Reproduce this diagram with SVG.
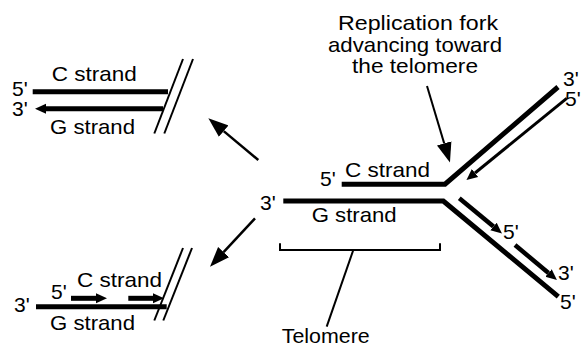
<svg xmlns="http://www.w3.org/2000/svg" width="582" height="347" viewBox="0 0 582 347">
<style>
text{font-family:"Liberation Sans",Arial,Helvetica,sans-serif;font-size:21px;fill:#000}
.dna{fill:none;stroke:#000;stroke-width:5;stroke-linejoin:miter}
.thin{fill:none;stroke:#000;stroke-width:2}
.mid{fill:none;stroke:#000;stroke-width:3}
.new{fill:none;stroke:#000;stroke-width:4.5}
</style>
<defs>
<marker id="ah" markerUnits="userSpaceOnUse" markerWidth="12" markerHeight="12" refX="0" refY="5" orient="auto" viewBox="0 0 12 10"><path d="M0,0 L11,5 L0,10 z" fill="#000"/></marker>
<marker id="ahBig" markerUnits="userSpaceOnUse" markerWidth="22" markerHeight="16" refX="0" refY="7.5" orient="auto" viewBox="0 0 22 15"><path d="M0,0 L20,7.5 L0,15 z" fill="#000"/></marker>
</defs>
<rect width="582" height="347" fill="#fff"/>

<g id="top-left">
<line class="dna" x1="32.7" y1="91.8" x2="168" y2="91.8"/>
<line class="dna" x1="163" y1="108.8" x2="46" y2="108.8" marker-end="url(#ah)"/>
<line class="thin" x1="183" y1="59" x2="154.3" y2="133.5"/>
<line class="thin" x1="193" y1="59" x2="164.3" y2="133.5"/>
<text x="12" y="96">5'</text>
<text x="12" y="115.5">3'</text>
<text x="51.7" y="81" textLength="85" lengthAdjust="spacingAndGlyphs">C strand</text>
<text x="50" y="134" textLength="85" lengthAdjust="spacingAndGlyphs">G strand</text>
</g>

<g id="bottom-left">
<line class="dna" x1="36" y1="306.7" x2="166.7" y2="306.7"/>
<line class="dna" x1="71" y1="298.3" x2="96" y2="298.3" marker-end="url(#ah)"/>
<line class="dna" x1="128.3" y1="298.3" x2="153" y2="298.3" marker-end="url(#ah)"/>
<line class="thin" x1="183" y1="248" x2="154.3" y2="320.5"/>
<line class="thin" x1="192" y1="248" x2="163.3" y2="320.5"/>
<text x="14" y="312">3'</text>
<text x="51" y="298.5">5'</text>
<text x="77" y="287" textLength="85" lengthAdjust="spacingAndGlyphs">C strand</text>
<text x="50" y="330" textLength="85" lengthAdjust="spacingAndGlyphs">G strand</text>
</g>

<g id="fork">
<polyline class="dna" points="341.7,184.2 445,184.2 558,87"/>
<polyline class="dna" points="283.3,201 443.3,201 558.3,296.7"/>
<line class="mid" x1="566.7" y1="98.3" x2="475" y2="173" marker-end="url(#ah)"/>
<line class="new" x1="459.3" y1="198.3" x2="493.5" y2="226.5" marker-end="url(#ah)"/>
<line class="new" x1="515" y1="245" x2="548.5" y2="273" marker-end="url(#ah)"/>
<text x="320" y="186">5'</text>
<text x="345" y="177" textLength="85" lengthAdjust="spacingAndGlyphs">C strand</text>
<text x="260" y="210">3'</text>
<text x="311.7" y="222" textLength="85" lengthAdjust="spacingAndGlyphs">G strand</text>
<text x="563" y="86">3'</text>
<text x="565" y="105.5">5'</text>
<text x="503" y="238.5">5'</text>
<text x="558" y="280">3'</text>
<text x="560" y="308.5">5'</text>
</g>

<g id="fork-label">
<text x="418" y="30" text-anchor="middle" textLength="160" lengthAdjust="spacingAndGlyphs">Replication fork</text>
<text x="415" y="51.7" text-anchor="middle" textLength="174" lengthAdjust="spacingAndGlyphs">advancing toward</text>
<text x="415" y="73.3" text-anchor="middle" textLength="126" lengthAdjust="spacingAndGlyphs">the telomere</text>
</g>

<g id="telomere">
<polyline class="thin" points="280,243.3 280,250 440,250 440,243.3"/>
<line class="thin" x1="353.3" y1="250" x2="326.7" y2="326.7"/>
<text x="281.7" y="342.5" textLength="88" lengthAdjust="spacingAndGlyphs">Telomere</text>
</g>

<g id="connectors">
<line class="thin" x1="427" y1="86" x2="444.2" y2="143.4" marker-end="url(#ahBig)"/>
<line class="thin" x1="258.3" y1="160" x2="223.7" y2="131.1" marker-end="url(#ahBig)" style="stroke-width:2.5"/>
<line class="thin" x1="255" y1="218.3" x2="223.6" y2="252.1" marker-end="url(#ahBig)" style="stroke-width:2.5"/>
</g>
</svg>
